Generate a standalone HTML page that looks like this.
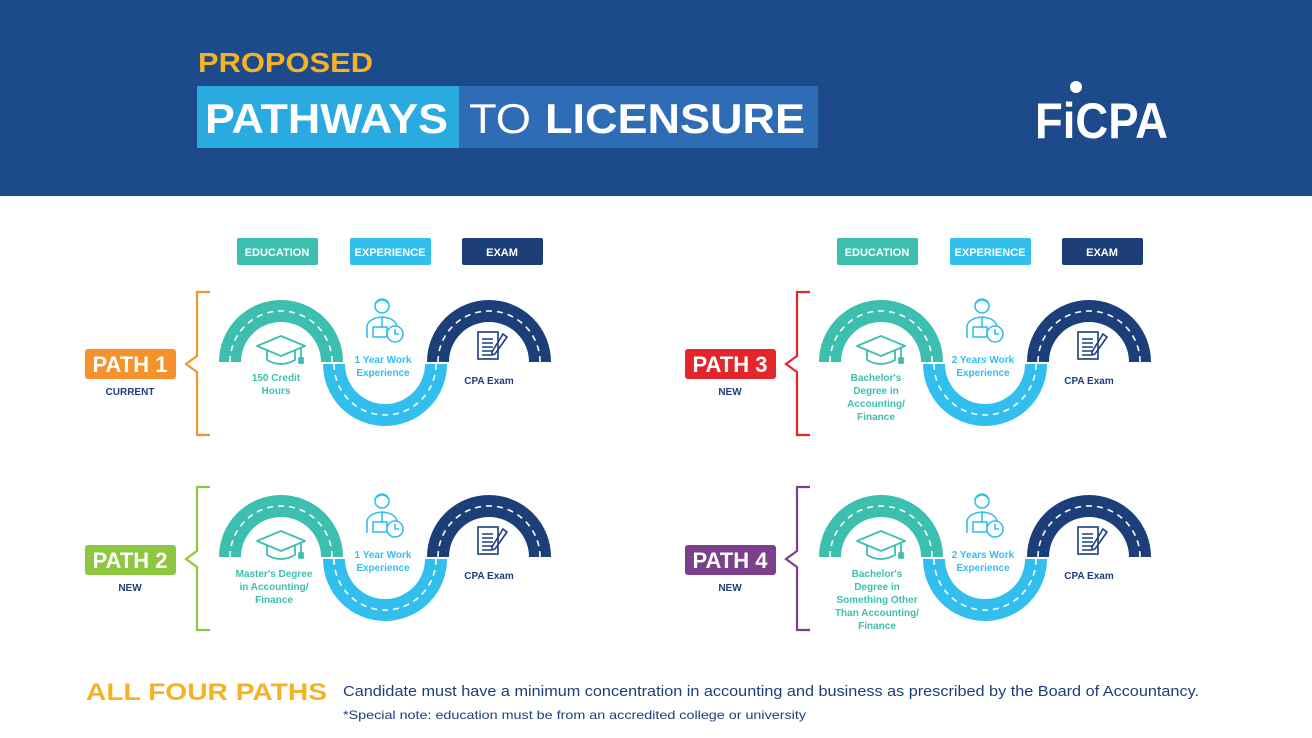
<!DOCTYPE html>
<html><head><meta charset="utf-8"><style>
html,body{margin:0;padding:0;background:#fff}
svg{display:block}
text{font-family:"Liberation Sans",Arial,sans-serif;font-weight:bold}
</style></head><body>
<svg width="1312" height="738" viewBox="0 0 1312 738" xmlns="http://www.w3.org/2000/svg">
<defs>
<g id="road">
  <path d="M-51 0 A51 51 0 0 1 51 0" fill="none" stroke="#3dbfb0" stroke-width="22"/>
  <path d="M-51 0 A51 51 0 0 1 51 0" fill="none" stroke="#fff" stroke-width="1.6" stroke-dasharray="6 5"/>
  <path d="M53 2 A51 51 0 0 0 155 2" fill="none" stroke="#33bfee" stroke-width="22"/>
  <path d="M53 2 A51 51 0 0 0 155 2" fill="none" stroke="#fff" stroke-width="1.6" stroke-dasharray="6 5"/>
  <path d="M157 0 A51 51 0 0 1 259 0" fill="none" stroke="#1c3f7a" stroke-width="22"/>
  <path d="M157 0 A51 51 0 0 1 259 0" fill="none" stroke="#fff" stroke-width="1.6" stroke-dasharray="6 5"/>
  <g fill="none" stroke="#3dbfb0" stroke-width="1.8" stroke-linejoin="round">
    <path d="M-24 -16 L0 -26 L24 -16 L0 -6 Z"/>
    <path d="M-14 -12 V-2 Q0 6 14 -2 V-12"/>
    <path d="M20 -14 V-4"/><rect x="18" y="-4" width="4" height="5" fill="#3dbfb0"/>
  </g>
  <g fill="none" stroke="#33bfee" stroke-width="1.6">
    <circle cx="101" cy="-56" r="7"/>
    <path d="M94 -58 Q101 -66 108 -58"/>
    <path d="M86 -24 V-36 Q88 -44 101 -45 Q114 -44 116 -36 V-30"/>
    <path d="M101 -45 V-34"/>
    <rect x="92" y="-35" width="14" height="10"/>
    <circle cx="114" cy="-28" r="8" fill="#fff"/>
    <path d="M114 -33 V-28 H118"/>
  </g>
  <g fill="none" stroke="#1c3f7a" stroke-width="1.6">
    <rect x="197" y="-30" width="20" height="27"/>
    <path d="M201 -23 H212 M201 -19 H212 M201 -15 H212 M201 -11 H212 M201 -7 H210"/>
    <path d="M222 -28 L226 -25 L214 -8 L211 -7 L211 -10 Z"/>
  </g>
</g>
</defs>
<rect x="0" y="0" width="1312" height="196" fill="#1c4a8a"/>
<text x="198" y="72" font-size="28" fill="#f5b324" textLength="175" lengthAdjust="spacingAndGlyphs">PROPOSED</text>
<rect x="197" y="86" width="262" height="62" fill="#29abe2"/>
<rect x="459" y="86" width="359" height="62" fill="#2f6cb6"/>
<text x="205" y="133" font-size="42" fill="#fff" textLength="243" lengthAdjust="spacingAndGlyphs">PATHWAYS</text>
<text x="469" y="133" font-size="42" fill="#fff" style="font-weight:normal" textLength="62" lengthAdjust="spacingAndGlyphs">TO</text>
<text x="545" y="133" font-size="42" fill="#fff" textLength="260" lengthAdjust="spacingAndGlyphs">LICENSURE</text>
<text x="1035" y="138" font-size="50" fill="#fff" textLength="133" lengthAdjust="spacingAndGlyphs">FiCPA</text>
<circle cx="1076" cy="87" r="6" fill="#fff"/>

<g font-size="11" fill="#fff" text-anchor="middle">
  <rect x="237" y="238" width="81" height="27" rx="2" fill="#3dbfb0"/><text x="277" y="256">EDUCATION</text>
  <rect x="350" y="238" width="81" height="27" rx="2" fill="#33bfee"/><text x="390" y="256">EXPERIENCE</text>
  <rect x="462" y="238" width="81" height="27" rx="2" fill="#1c3f7a"/><text x="502" y="256">EXAM</text>
  <rect x="837" y="238" width="81" height="27" rx="2" fill="#3dbfb0"/><text x="877" y="256">EDUCATION</text>
  <rect x="950" y="238" width="81" height="27" rx="2" fill="#33bfee"/><text x="990" y="256">EXPERIENCE</text>
  <rect x="1062" y="238" width="81" height="27" rx="2" fill="#1c3f7a"/><text x="1102" y="256">EXAM</text>
</g>

<use href="#road" x="281" y="362"/>
<use href="#road" x="881" y="362"/>
<use href="#road" x="281" y="557"/>
<use href="#road" x="881" y="557"/>

<g fill="none" stroke-width="2.2">
  <path d="M210 292 H197 V356 L186 364 L197 372 V435 H210" stroke="#f5922b"/>
  <path d="M810 292 H797 V356 L786 364 L797 372 V435 H810" stroke="#e2262b"/>
  <path d="M210 487 H197 V551 L186 559 L197 567 V630 H210" stroke="#8dc63f"/>
  <path d="M810 487 H797 V551 L786 559 L797 567 V630 H810" stroke="#7b3f8c"/>
</g>
<rect x="85" y="349" width="91" height="30" rx="3" fill="#f5922b"/>
<rect x="685" y="349" width="91" height="30" rx="3" fill="#e2262b"/>
<rect x="85" y="545" width="91" height="30" rx="3" fill="#8dc63f"/>
<rect x="685" y="545" width="91" height="30" rx="3" fill="#7b3f8c"/>
<g font-size="22" fill="#fff" text-anchor="middle">
  <text x="130" y="372">PATH 1</text><text x="730" y="372">PATH 3</text>
  <text x="130" y="568">PATH 2</text><text x="730" y="568">PATH 4</text>
</g>
<g font-size="10" fill="#1c3f7a" text-anchor="middle">
  <text x="130" y="395">CURRENT</text><text x="730" y="395">NEW</text>
  <text x="130" y="591">NEW</text><text x="730" y="591">NEW</text>
</g>

<g font-size="10" text-anchor="middle">
  <g fill="#3dbfb0">
    <text x="276" y="381">150 Credit</text><text x="276" y="394">Hours</text>
    <text x="876" y="381">Bachelor's</text><text x="876" y="394">Degree in</text><text x="876" y="407">Accounting/</text><text x="876" y="420">Finance</text>
    <text x="274" y="577">Master's Degree</text><text x="274" y="590">in Accounting/</text><text x="274" y="603">Finance</text>
    <text x="877" y="577">Bachelor's</text><text x="877" y="590">Degree in</text><text x="877" y="603">Something Other</text><text x="877" y="616">Than Accounting/</text><text x="877" y="629">Finance</text>
  </g>
  <g fill="#33bfee">
    <text x="383" y="363">1 Year Work</text><text x="383" y="376">Experience</text>
    <text x="983" y="363">2 Years Work</text><text x="983" y="376">Experience</text>
    <text x="383" y="558">1 Year Work</text><text x="383" y="571">Experience</text>
    <text x="983" y="558">2 Years Work</text><text x="983" y="571">Experience</text>
  </g>
  <g fill="#1c3f7a">
    <text x="489" y="384">CPA Exam</text><text x="1089" y="384">CPA Exam</text>
    <text x="489" y="579">CPA Exam</text><text x="1089" y="579">CPA Exam</text>
  </g>
</g>

<text x="86" y="700" font-size="24" fill="#f5b324" textLength="241" lengthAdjust="spacingAndGlyphs">ALL FOUR PATHS</text>
<text x="343" y="696" font-size="15" fill="#1c3f7a" style="font-weight:normal" textLength="856" lengthAdjust="spacingAndGlyphs">Candidate must have a minimum concentration in accounting and business as prescribed by the Board of Accountancy.</text>
<text x="343" y="719" font-size="12" fill="#1c3f7a" style="font-weight:normal" textLength="463" lengthAdjust="spacingAndGlyphs">*Special note: education must be from an accredited college or university</text>
</svg>
</body></html>
